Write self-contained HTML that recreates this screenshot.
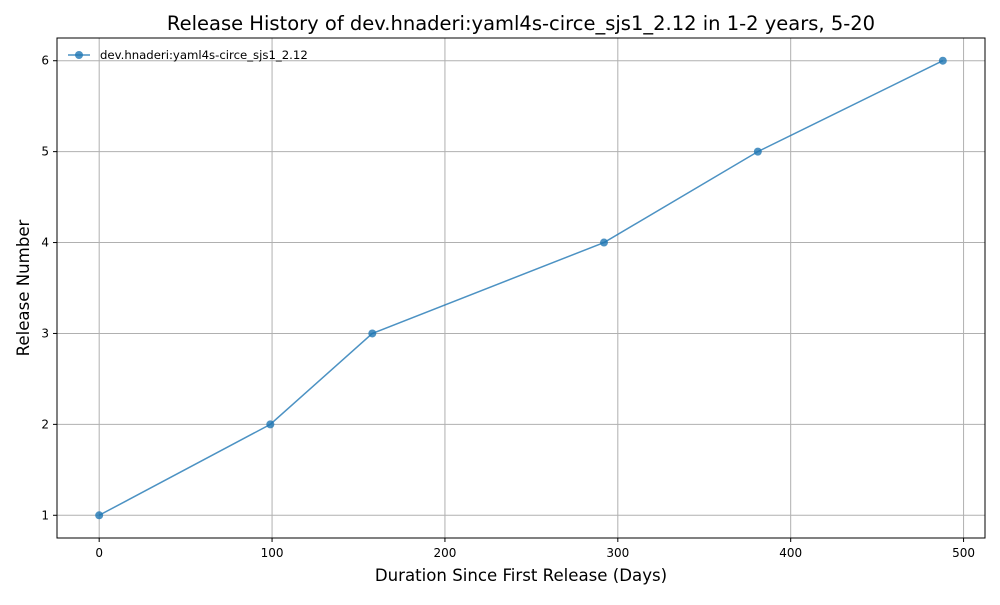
<!DOCTYPE html>
<html><head><meta charset="utf-8"><style>
body{margin:0;background:#fff;font-family:"Liberation Sans","DejaVu Sans",sans-serif;}
svg text{font-family:"DejaVu Sans","Liberation Sans",sans-serif;}
</style></head><body>
<svg id="chart" width="1000" height="600" xmlns="http://www.w3.org/2000/svg">
<rect width="1000" height="600" fill="#fff"/>
<g id="grid"></g>
<g id="axes"></g>
<g id="series"></g>
<rect x="57" y="38" width="928" height="500" fill="none" stroke="#000" stroke-width="1"/>
<text x="521" y="30" font-size="19.5" text-anchor="middle">Release History of dev.hnaderi:yaml4s-circe_sjs1_2.12 in 1-2 years, 5-20</text>
<text x="521" y="581" font-size="16.6" text-anchor="middle">Duration Since First Release (Days)</text>
<text x="29" y="288" font-size="16.6" text-anchor="middle" transform="rotate(-90 29 288)">Release Number</text>
<g>
<line x1="68" y1="55" x2="90" y2="55" stroke="#1f77b4" stroke-opacity="0.8" stroke-width="1.5"/>
<circle cx="79" cy="55" r="4" fill="#1f77b4" fill-opacity="0.8"/>
<text x="100" y="59" font-size="11.7">dev.hnaderi:yaml4s-circe_sjs1_2.12</text>
</g>
</svg>
<script>
const days = [0, 99, 158, 292, 381, 488];
const releases = [1, 2, 3, 4, 5, 6];
const xTicks = [0, 100, 200, 300, 400, 500];
const yTicks = [1, 2, 3, 4, 5, 6];
const L=57,R=985,T=38,B=538;
const xMin=-24.4,xMax=512.4,yMin=0.75,yMax=6.25;
const sx=v=>L+(v-xMin)/(xMax-xMin)*(R-L);
const sy=v=>B-(v-yMin)/(yMax-yMin)*(B-T);
const NS="http://www.w3.org/2000/svg";
function mk(tag,attrs,parent){const e=document.createElementNS(NS,tag);for(const k in attrs)e.setAttribute(k,attrs[k]);parent.appendChild(e);return e;}
const grid=document.getElementById('grid'),axes=document.getElementById('axes'),series=document.getElementById('series');
xTicks.forEach(t=>{const x=sx(t);
const g=mk('line',{x1:x,x2:x,y1:T,y2:B,stroke:'#b0b0b0','stroke-width':1},grid);


mk('line',{x1:x,x2:x,y1:B,y2:B+4,stroke:'#000'},axes);
const tx=mk('text',{x:x,y:B+19,'font-size':12,'text-anchor':'middle'},axes);tx.textContent=t;

});
yTicks.forEach(t=>{const y=sy(t);
const g=mk('line',{x1:L,x2:R,y1:y,y2:y,stroke:'#b0b0b0','stroke-width':1},grid);


mk('line',{x1:L-4,x2:L,y1:y,y2:y,stroke:'#000'},axes);
const tx=mk('text',{x:L-8,y:y+4,'font-size':12,'text-anchor':'end'},axes);tx.textContent=t;

});
const pts=days.map((d,i)=>sx(d)+','+sy(releases[i])).join(' ');
const pl=mk('polyline',{points:pts,fill:'none',stroke:'#1f77b4','stroke-opacity':0.8,'stroke-width':1.5},series);


days.forEach((d,i)=>{const c=mk('circle',{cx:sx(d),cy:sy(releases[i]),r:4,fill:'#1f77b4','fill-opacity':0.8},series);

});
</script>
</body></html>
